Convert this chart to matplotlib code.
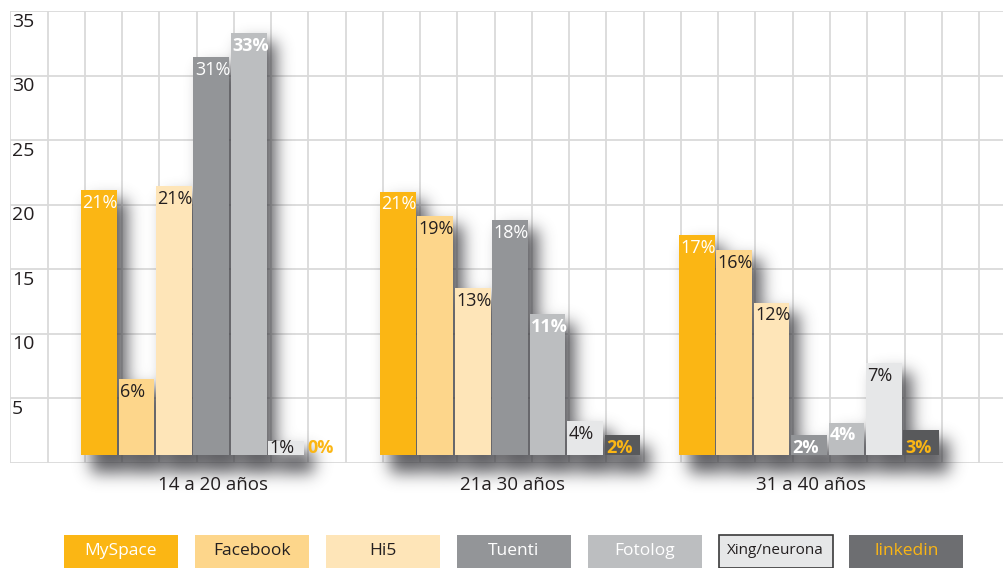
import numpy as np
from matplotlib import pyplot as plt
from matplotlib.patches import Rectangle

plt.rcParams['font.family'] = ['Open Sans', 'DejaVu Sans']

# data
groups = ['14 a 20 años', '21a 30 años', '31 a 40 años']
networks = ['MySpace', 'Facebook', 'Hi5', 'Tuenti', 'Fotolog', 'Xing/neurona', 'linkedin']
# bar tops as drawn (the picture's bars do not match the printed labels exactly)
myspace = [21.1, 21.0, 17.6]
facebook = [6.5, 19.1, 16.5]
hi5 = [21.4, 13.5, 12.4]
tuenti = [31.4, 18.8, 2.1]
fotolog = [33.3, 11.5, 3.1]
xing = [1.7, 3.2, 7.7]
linkedin = [0.0, 2.1, 2.5]
# printed labels
labels = [['21%', '21%', '17%'],
          ['6%', '19%', '16%'],
          ['21%', '13%', '12%'],
          ['31%', '18%', '2%'],
          ['33%', '11%', '4%'],
          ['1%', '4%', '7%'],
          ['0%', '2%', '3%']]
yticks = [5, 10, 15, 20, 25, 30, 35]

series = [myspace, facebook, hi5, tuenti, fotolog, xing, linkedin]
colors = ['#FBB614', '#FDD68B', '#FEE5B8', '#939598', '#BCBEC0', '#E6E7E8', '#58595B']
legend_colors = ['#FBB614', '#FDD68B', '#FEE5B8', '#939598', '#BCBEC0', '#E6E7E8', '#6D6E71']
text_colors = ['white', '#231F20', '#231F20', 'white', 'white', '#231F20', '#FBB614']
bold = {(4, 0), (4, 1), (4, 2), (6, 0), (6, 1), (6, 2), (3, 2)}
dark = '#231F20'

W, H = 1004, 568
fig = plt.figure(figsize=(W / 100, H / 100), dpi=100)
x0px, unit_x = 10.3, 37.26
ax = fig.add_axes([x0px / W, (H - 462.5) / H, 1 - x0px / W, (462.5 - 11) / H])
xmax = (W - x0px) / unit_x
ymin_sh = -3.0

base = 0.6
width = 0.96
step = 1.005
group_start = [1.9 + 8.02 * g for g in range(len(groups))]

# soft drop shadow behind the bars
nx, ny = 994, int((35 - ymin_sh) * 12.9)
X = (np.arange(nx) + 0.5) / nx * xmax
Y = ymin_sh + (np.arange(ny) + 0.5) / ny * (35 - ymin_sh)
mask = np.zeros((ny, nx))
dx, dy = 0.27, 0.8
for i, vals in enumerate(series):
    for g, v in enumerate(vals):
        if v <= 0:
            continue
        left = group_start[g] + i * step
        inx = (X >= left + dx) & (X <= left + width + dx)
        iny = (Y >= -0.8) & (Y <= v - dy)
        mask[np.ix_(iny, inx)] = 1.0
r = np.arange(-26, 27)
kx = np.exp(-0.5 * (r / 8.0) ** 2)
kx /= kx.sum()
blur = np.array([np.convolve(row, kx, mode='same') for row in mask])
blur = np.array([np.convolve(col, kx, mode='same') for col in blur.T]).T
rgba = np.zeros((ny, nx, 4))
rgba[..., 0] = 0.22
rgba[..., 1] = 0.22
rgba[..., 2] = 0.24
rgba[..., 3] = np.clip(blur * 0.8, 0, 1)
im = ax.imshow(rgba, extent=[0, xmax, ymin_sh, 35], origin='lower', aspect='auto',
               interpolation='bilinear', zorder=1.5)
im.set_clip_on(False)

# bars and their labels
for i, vals in enumerate(series):
    lefts = [group_start[g] + i * step for g in range(len(vals))]
    heights = [max(v - base, 0) for v in vals]
    ax.bar(lefts, heights, width=width, bottom=base, align='edge',
           color=colors[i], zorder=3)
    for g, v in enumerate(vals):
        top_txt = v - 0.5 if v > 2.6 else 1.6
        ax.text(lefts[g] + 0.04, top_txt + 0.2, labels[i][g], ha='left', va='top',
                fontsize=13, color=text_colors[i],
                fontweight='bold' if (i, g) in bold else 'normal', zorder=4)

# grid
for k in range(0, int(xmax) + 1):
    ax.axvline(k, color='#DADADA', lw=1.3, zorder=0.5)
for v in [0] + yticks:
    ax.axhline(v, color='#DADADA', lw=1.3, zorder=0.5)
for v in yticks:
    ax.text(0.04, v - 0.15, str(v), ha='left', va='top', fontsize=14, color=dark, zorder=4)

# group labels
for g, name in enumerate(groups):
    c = group_start[g] + (6 * step + width) / 2 + 0.05
    ax.text(c, -1.72, name, ha='center', va='center', fontsize=13.5, color=dark,
            clip_on=False, zorder=4)

ax.set_xlim(0, xmax)
ax.set_ylim(0, 35)
ax.set_xticks([])
ax.set_yticks([])
for s in ax.spines.values():
    s.set_visible(False)

# legend boxes along the bottom
for i, name in enumerate(networks):
    lx = 64 + i * 130.9
    bw, bh = 114, 33
    edge = '#3A3A3A' if i == 5 else 'none'
    fig.add_artist(Rectangle((lx / W, 0), bw / W, bh / H, transform=fig.transFigure,
                             facecolor=legend_colors[i], edgecolor=edge, lw=1.2))
    fig.text((lx + bw / 2) / W, (bh / 2 + 0.5) / H, name, ha='center', va='center',
             fontsize=12.5 if i != 5 else 11, color=text_colors[i])

fig.savefig('out.png', dpi=100)
